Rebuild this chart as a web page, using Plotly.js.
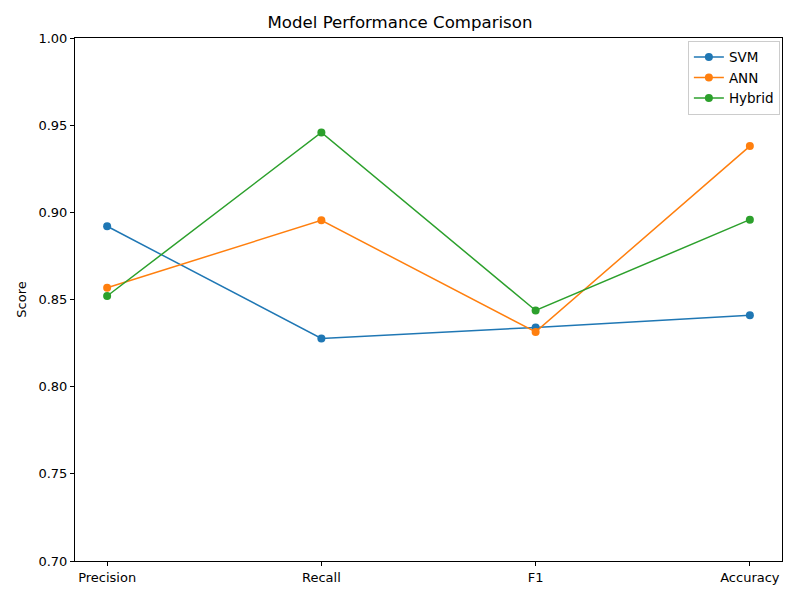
<!DOCTYPE html>
<html>
<head>
<meta charset="utf-8">
<script src="https://cdn.plot.ly/plotly-3.0.1.min.js"></script>
<style>html,body{margin:0;padding:0;background:#fff;}#chart{width:800px;height:600px;}</style>
</head>
<body>
<div id="chart"></div>
<script>
const categories = ["Precision", "Recall", "F1", "Accuracy"];
const svm = [0.892, 0.8277, 0.834, 0.841];
const ann = [0.8567, 0.8954, 0.8314, 0.938];
const hybrid = [0.852, 0.9458, 0.8437, 0.8958];
const seriesNames = ["SVM", "ANN", "Hybrid"];
const colors = ["#1f77b4", "#ff7f0e", "#2ca02c"];
const yTicks = [0.70, 0.75, 0.80, 0.85, 0.90, 0.95, 1.00];

const xIdx = categories.map((_, i) => i);
const data = [svm, ann, hybrid].map((vals, k) => ({
  x: xIdx, y: vals, name: seriesNames[k], type: "scatter", mode: "lines+markers",
  line: {color: colors[k], width: 1.5}, marker: {color: colors[k], size: 8}
}));

const layout = {
  width: 800, height: 600,
  margin: {l: 75, r: 18, t: 38, b: 39},
  paper_bgcolor: "#fff", plot_bgcolor: "#fff",
  font: {family: "DejaVu Sans", size: 13, color: "#000"},
  title: {text: "Model Performance Comparison", font: {size: 16.6, color: "#000"}, x: 0.5, xanchor: "center", y: 0.963, yanchor: "middle"},
  xaxis: {range: [-0.15, 3.15], tickvals: xIdx, ticktext: categories, showgrid: false, zeroline: false,
    showline: true, mirror: true, linecolor: "#000", linewidth: 1, ticks: "outside", ticklen: 4, tickcolor: "#000"},
  yaxis: {range: [0.70, 1.00], tickvals: yTicks, ticktext: yTicks.map(v => v.toFixed(2)), showgrid: false, zeroline: false,
    showline: true, mirror: true, linecolor: "#000", linewidth: 1, ticks: "outside", ticklen: 4, tickcolor: "#000",
    title: {text: "Score", font: {size: 13}, standoff: 8}},
  legend: {x: 0.997, y: 0.995, xanchor: "right", yanchor: "top", bgcolor: "rgba(255,255,255,0.8)",
    bordercolor: "#ccc", borderwidth: 1, font: {size: 13.5}, tracegroupgap: 0},
  showlegend: true
};
Plotly.newPlot("chart", data, layout, {displayModeBar: false});
</script>
</body>
</html>
